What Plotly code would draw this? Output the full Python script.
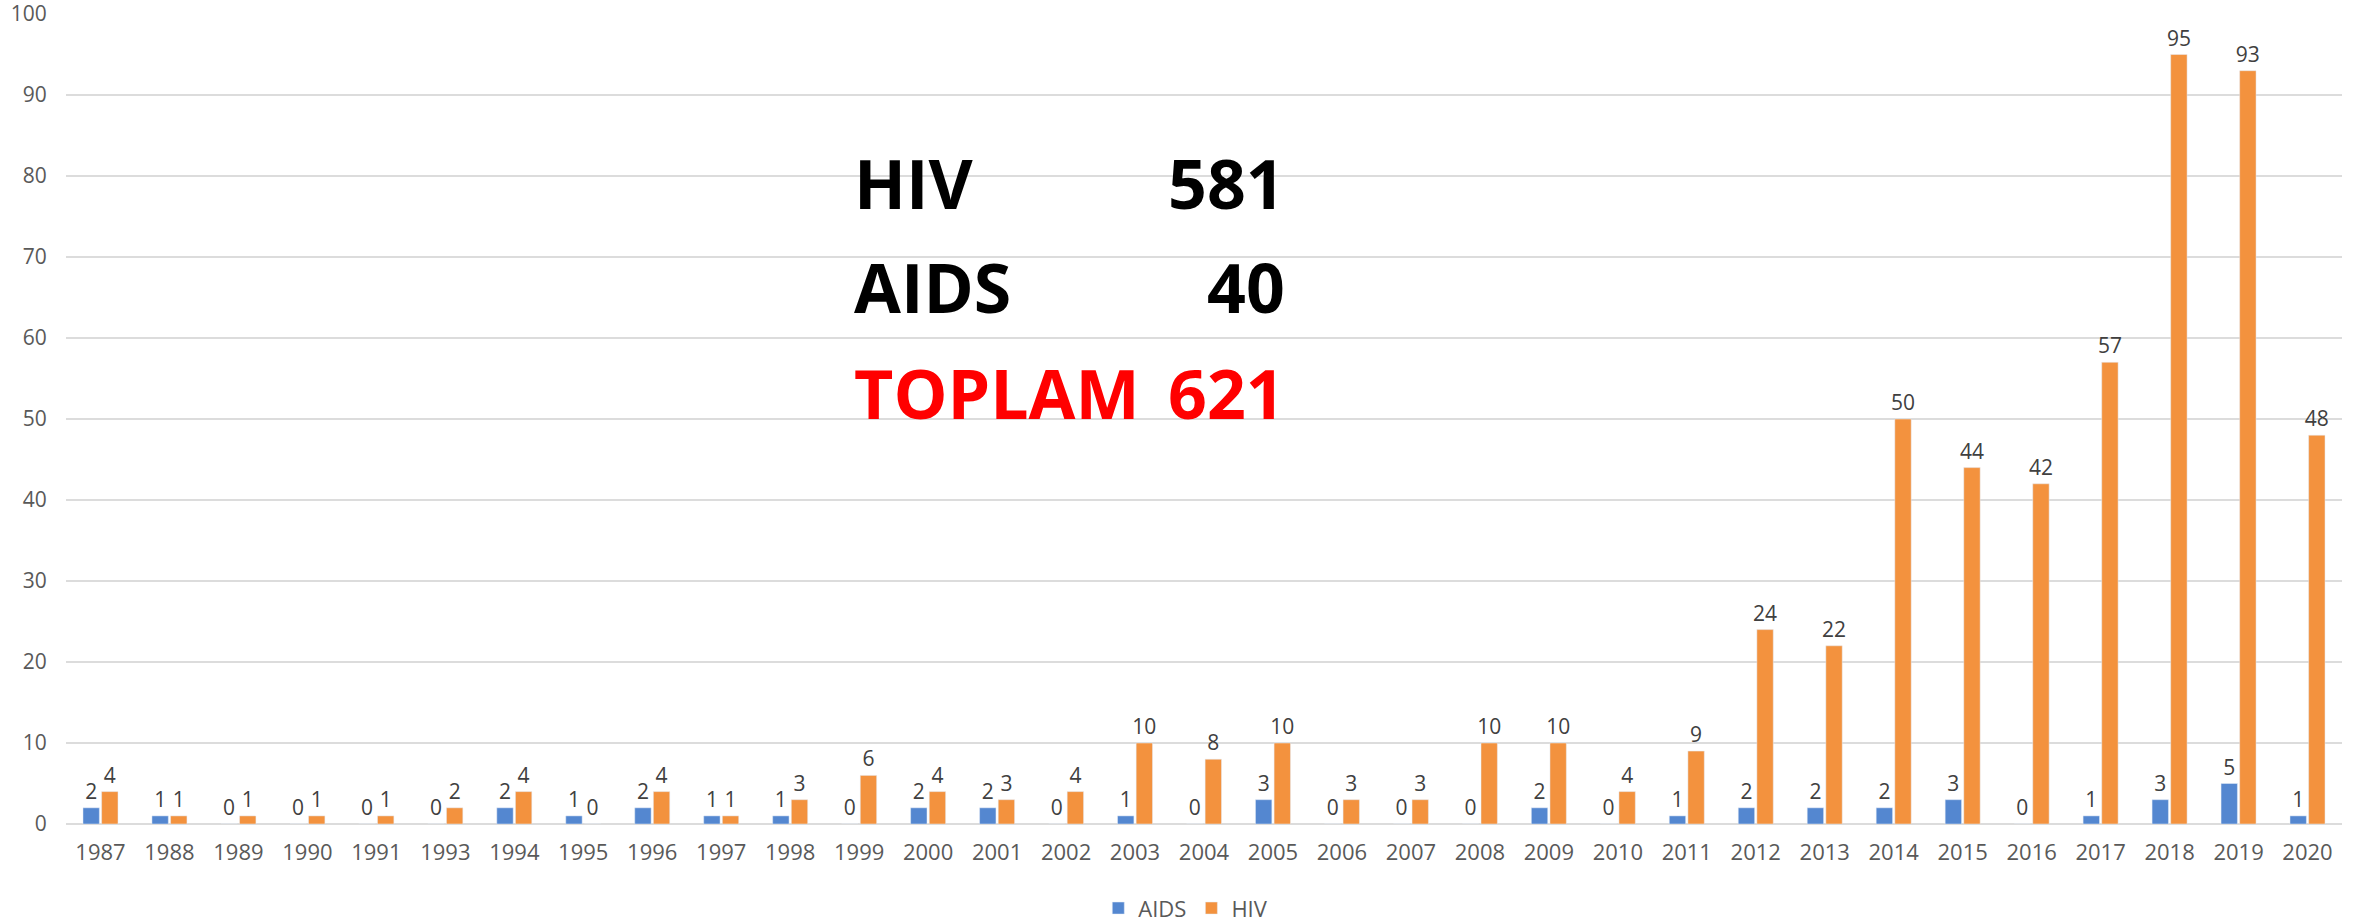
import plotly.graph_objects as go

years = ["1987", "1988", "1989", "1990", "1991", "1993", "1994", "1995", "1996", "1997",
         "1998", "1999", "2000", "2001", "2002", "2003", "2004", "2005", "2006", "2007",
         "2008", "2009", "2010", "2011", "2012", "2013", "2014", "2015", "2016", "2017",
         "2018", "2019", "2020"]
aids = [2, 1, 0, 0, 0, 0, 2, 1, 2, 1, 1, 0, 2, 2, 0, 1, 0, 3, 0, 0, 0, 2, 0, 1, 2, 2, 2, 3, 0, 1, 3, 5, 1]
hiv = [4, 1, 1, 1, 1, 2, 4, 0, 4, 1, 3, 6, 4, 3, 4, 10, 8, 10, 3, 3, 10, 10, 4, 9, 24, 22, 50, 44, 42, 57, 95, 93, 48]

summary_labels = ["HIV", "AIDS", "TOPLAM"]
summary_values = [sum(hiv), sum(aids), sum(hiv) + sum(aids)]
summary_colors = ["black", "black", "#FF0000"]

BLUE = "#5487D0"
ORANGE = "#F3923E"
FONT = "Open Sans"

fig = go.Figure()
for name, vals, color in [("AIDS", aids, BLUE), ("HIV", hiv, ORANGE)]:
    fig.add_trace(go.Bar(
        x=years, y=vals, name=name, marker_color=color,
        text=[str(v) for v in vals], textposition="outside",
        textfont=dict(family=FONT, size=21, color="#404040"),
        constraintext="none", cliponaxis=False,
    ))

# big summary block in the middle of the chart
row_y = [0.792, 0.664, 0.533]
for label, val, color, y in zip(summary_labels, summary_values, summary_colors, row_y):
    fig.add_annotation(x=0.3453, y=y, xref="paper", yref="paper", text=f"<b>{label}</b>",
                       showarrow=False, xanchor="left", yanchor="middle",
                       font=dict(family=FONT, size=68, color=color))
    fig.add_annotation(x=0.5365, y=y, xref="paper", yref="paper", text=f"<b>{val}</b>",
                       showarrow=False, xanchor="right", yanchor="middle",
                       font=dict(family=FONT, size=68, color=color))

fig.update_layout(
    width=2361, height=922,
    margin=dict(l=66, r=19, t=14, b=98, autoexpand=False),
    paper_bgcolor="white", plot_bgcolor="white",
    barmode="group", bargap=0.46, bargroupgap=0.12,
    font=dict(family=FONT, size=22, color="#595959"),
    legend=dict(orientation="h", x=0.492, xanchor="center", y=-0.104, yanchor="middle",
                font=dict(family=FONT, size=22, color="#595959"), itemwidth=30),
    xaxis=dict(type="category", showgrid=False, ticks="outside", ticklen=9, automargin=False,
               tickcolor="rgba(0,0,0,0)", tickfont=dict(size=22, color="#595959")),
    yaxis=dict(range=[0, 100], dtick=10, showgrid=True, gridcolor="#DCDCDC", gridwidth=2,
               zeroline=True, zerolinecolor="#DCDCDC", zerolinewidth=2, automargin=False,
               ticks="outside", ticklen=14, tickcolor="rgba(0,0,0,0)",
               ticklabeloverflow="allow",
               tickfont=dict(size=21, color="#595959")),
)

# drop the default page margin so the figure sits at the window's corner
fig.write_html("out.html", config={"displayModeBar": False},
               post_script="document.body.style.margin='0px';")
